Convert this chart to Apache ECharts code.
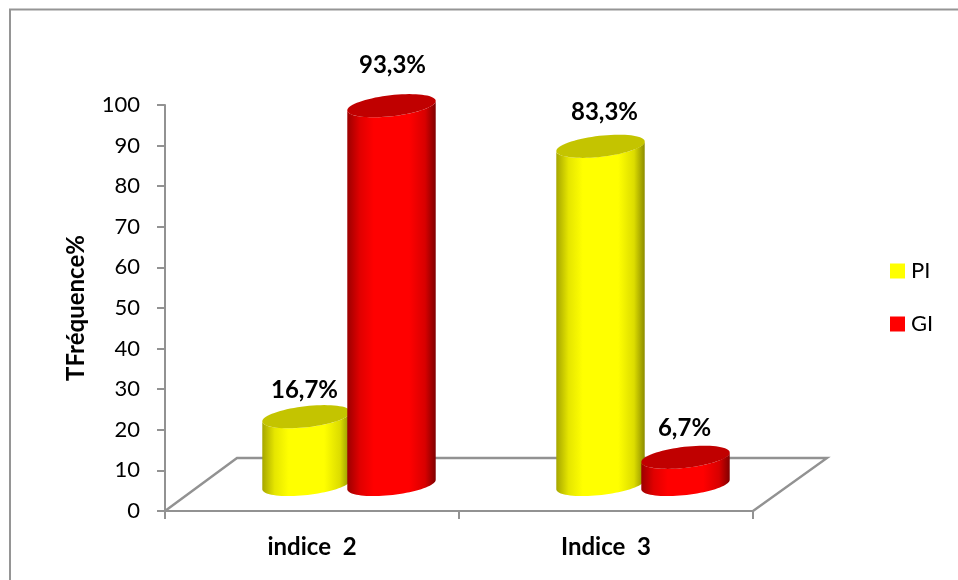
<!DOCTYPE html>
<html>
<head>
<meta charset="utf-8">
<style>html,body{margin:0;padding:0;background:#fff}#c{width:958px;height:580px}</style>
<script src="https://cdn.jsdelivr.net/npm/echarts@6/dist/echarts.min.js"></script>
</head>
<body>
<div id="c"></div>
<script>
const categories = ['indice  2', 'Indice  3'];
const yTicks = { min: 0, max: 100, interval: 10 };
const seriesPI = [16.7, 83.3];
const seriesGI = [93.3, 6.7];
const labelsPI = ['16,7%', '83,3%'];
const labelsGI = ['93,3%', '6,7%'];

const FONT = 'Lato, "Open Sans", sans-serif';
const GREY = '#929292';
const DEPTH_X = 72, DEPTH_Y = 53;
const RX = 44.5, RY = 10.5, TILT = 6.5 * Math.PI / 180, BAR_STEP = 85;
const labelNudgePI = [[-2, -26], [4, -34]];
const labelNudgeGI = [[1, -40], [-1, -29]];

function ellipsePoints(cx, cy, from, to, n) {
  const pts = [];
  for (let k = 0; k <= n; k++) {
    const t = from + (to - from) * k / n;
    const ex = RX * Math.cos(t), ey = RY * Math.sin(t);
    pts.push([cx + ex * Math.cos(TILT) + ey * Math.sin(TILT),
              cy - ex * Math.sin(TILT) + ey * Math.cos(TILT)]);
  }
  return pts;
}
function sideGradient(edgeL, midL, main, midR, edgeR) {
  return new echarts.graphic.LinearGradient(0, 0, 1, 0, [
    { offset: 0, color: edgeL }, { offset: 0.14, color: midL }, { offset: 0.3, color: main },
    { offset: 0.7, color: main }, { offset: 0.88, color: midR }, { offset: 1, color: edgeR }
  ]);
}
function cylinder(side, capColor, texts, nudges, sign) {
  return function (params, api) {
    const i = api.value(0), v = api.value(1);
    const c0 = api.coord([i, 0]), c1 = api.coord([i, v]);
    const cx = c0[0] + DEPTH_X / 2 + sign * BAR_STEP / 2 + 1;
    const yb = c0[1] - DEPTH_Y / 2;
    const yt = c1[1] - DEPTH_Y / 2;
    const top = ellipsePoints(cx, yt, 0, 2 * Math.PI, 72);
    const n = nudges[params.dataIndex];
    return {
      type: 'group',
      children: [
        { type: 'polygon', shape: { points: ellipsePoints(cx, yt, Math.PI, 0, 40).concat(ellipsePoints(cx, yb, 0, Math.PI, 40)) },
          style: { fill: side } },
        { type: 'polygon', shape: { points: top }, style: { fill: capColor } },
        { type: 'text', x: cx + n[0], y: yt + n[1],
          style: { text: texts[params.dataIndex], font: 'bold 24px ' + FONT, fill: '#000',
                   textAlign: 'center', textVerticalAlign: 'middle' } }
      ]
    };
  };
}
function floorItem(params, api) {
  const c = api.coord([0, 0]);
  const bw = api.size([1, 0])[0];
  const l = c[0] - bw / 2, r = c[0] + bw * 1.5, y = c[1];
  return {
    type: 'polyline',
    shape: { points: [[l, y], [l + DEPTH_X, y - DEPTH_Y], [r + DEPTH_X + 2, y - DEPTH_Y], [r, y]] },
    style: { stroke: GREY, lineWidth: 2.4, fill: null }
  };
}

const chart = echarts.init(document.getElementById('c'), null, { renderer: 'canvas' });
chart.setOption({
  animation: false,
  backgroundColor: '#fff',
  grid: { left: 165, top: 105, width: 588, height: 406, containLabel: false },
  graphic: [{
    type: 'polyline', silent: true,
    shape: { points: [[10, 580], [10, 9.5], [958, 9.5]] },
    style: { stroke: '#959595', lineWidth: 2, fill: null }
  }],
  legend: {
    orient: 'vertical', left: 885, top: 255, itemWidth: 15, itemHeight: 15, itemGap: 31,
    textStyle: { fontFamily: FONT, fontSize: 22, color: '#000', padding: [0, 0, 0, 1] },
    data: [
      { name: 'PI', icon: 'rect', itemStyle: { color: '#ffff00' } },
      { name: 'GI', icon: 'rect', itemStyle: { color: '#ff0000' } }
    ]
  },
  xAxis: {
    type: 'category', data: categories,
    axisLine: { lineStyle: { color: GREY, width: 2 } },
    axisTick: { show: true, alignWithLabel: false, length: 8, lineStyle: { color: GREY, width: 2 } },
    axisLabel: { margin: 24, color: '#000', fontFamily: FONT, fontSize: 24, fontWeight: 'bold' }
  },
  yAxis: {
    type: 'value', min: yTicks.min, max: yTicks.max, interval: yTicks.interval,
    name: 'TFréquence%', nameLocation: 'middle', nameGap: 77, nameRotate: 90,
    nameTextStyle: { color: '#000', fontFamily: FONT, fontSize: 24, fontWeight: 'bold' },
    splitLine: { show: false },
    axisLine: { show: true, lineStyle: { color: GREY, width: 2 } },
    axisTick: { show: true, length: 8, lineStyle: { color: GREY, width: 2 } },
    axisLabel: { margin: 25, color: '#000', fontFamily: FONT, fontSize: 22, padding: [2, 0, 0, 0] }
  },
  series: [
    { name: 'floor', type: 'custom', silent: true, z: 1, data: [[0, 0]], encode: { x: 0, y: 1 }, renderItem: floorItem },
    { name: 'PI', type: 'custom', z: 2, itemStyle: { color: '#ffff00' }, encode: { x: 0, y: 1 },
      data: seriesPI.map((v, i) => [i, v]),
      renderItem: cylinder(sideGradient('#a6a600', '#e6e600', '#ffff00', '#dcdc00', '#8c8c00'), '#c4c400', labelsPI, labelNudgePI, -1) },
    { name: 'GI', type: 'custom', z: 3, itemStyle: { color: '#ff0000' }, encode: { x: 0, y: 1 },
      data: seriesGI.map((v, i) => [i, v]),
      renderItem: cylinder(sideGradient('#9c0000', '#e00000', '#ff0000', '#d80000', '#800000'), '#c00000', labelsGI, labelNudgeGI, 1) }
  ]
});
</script>
</body>
</html>
